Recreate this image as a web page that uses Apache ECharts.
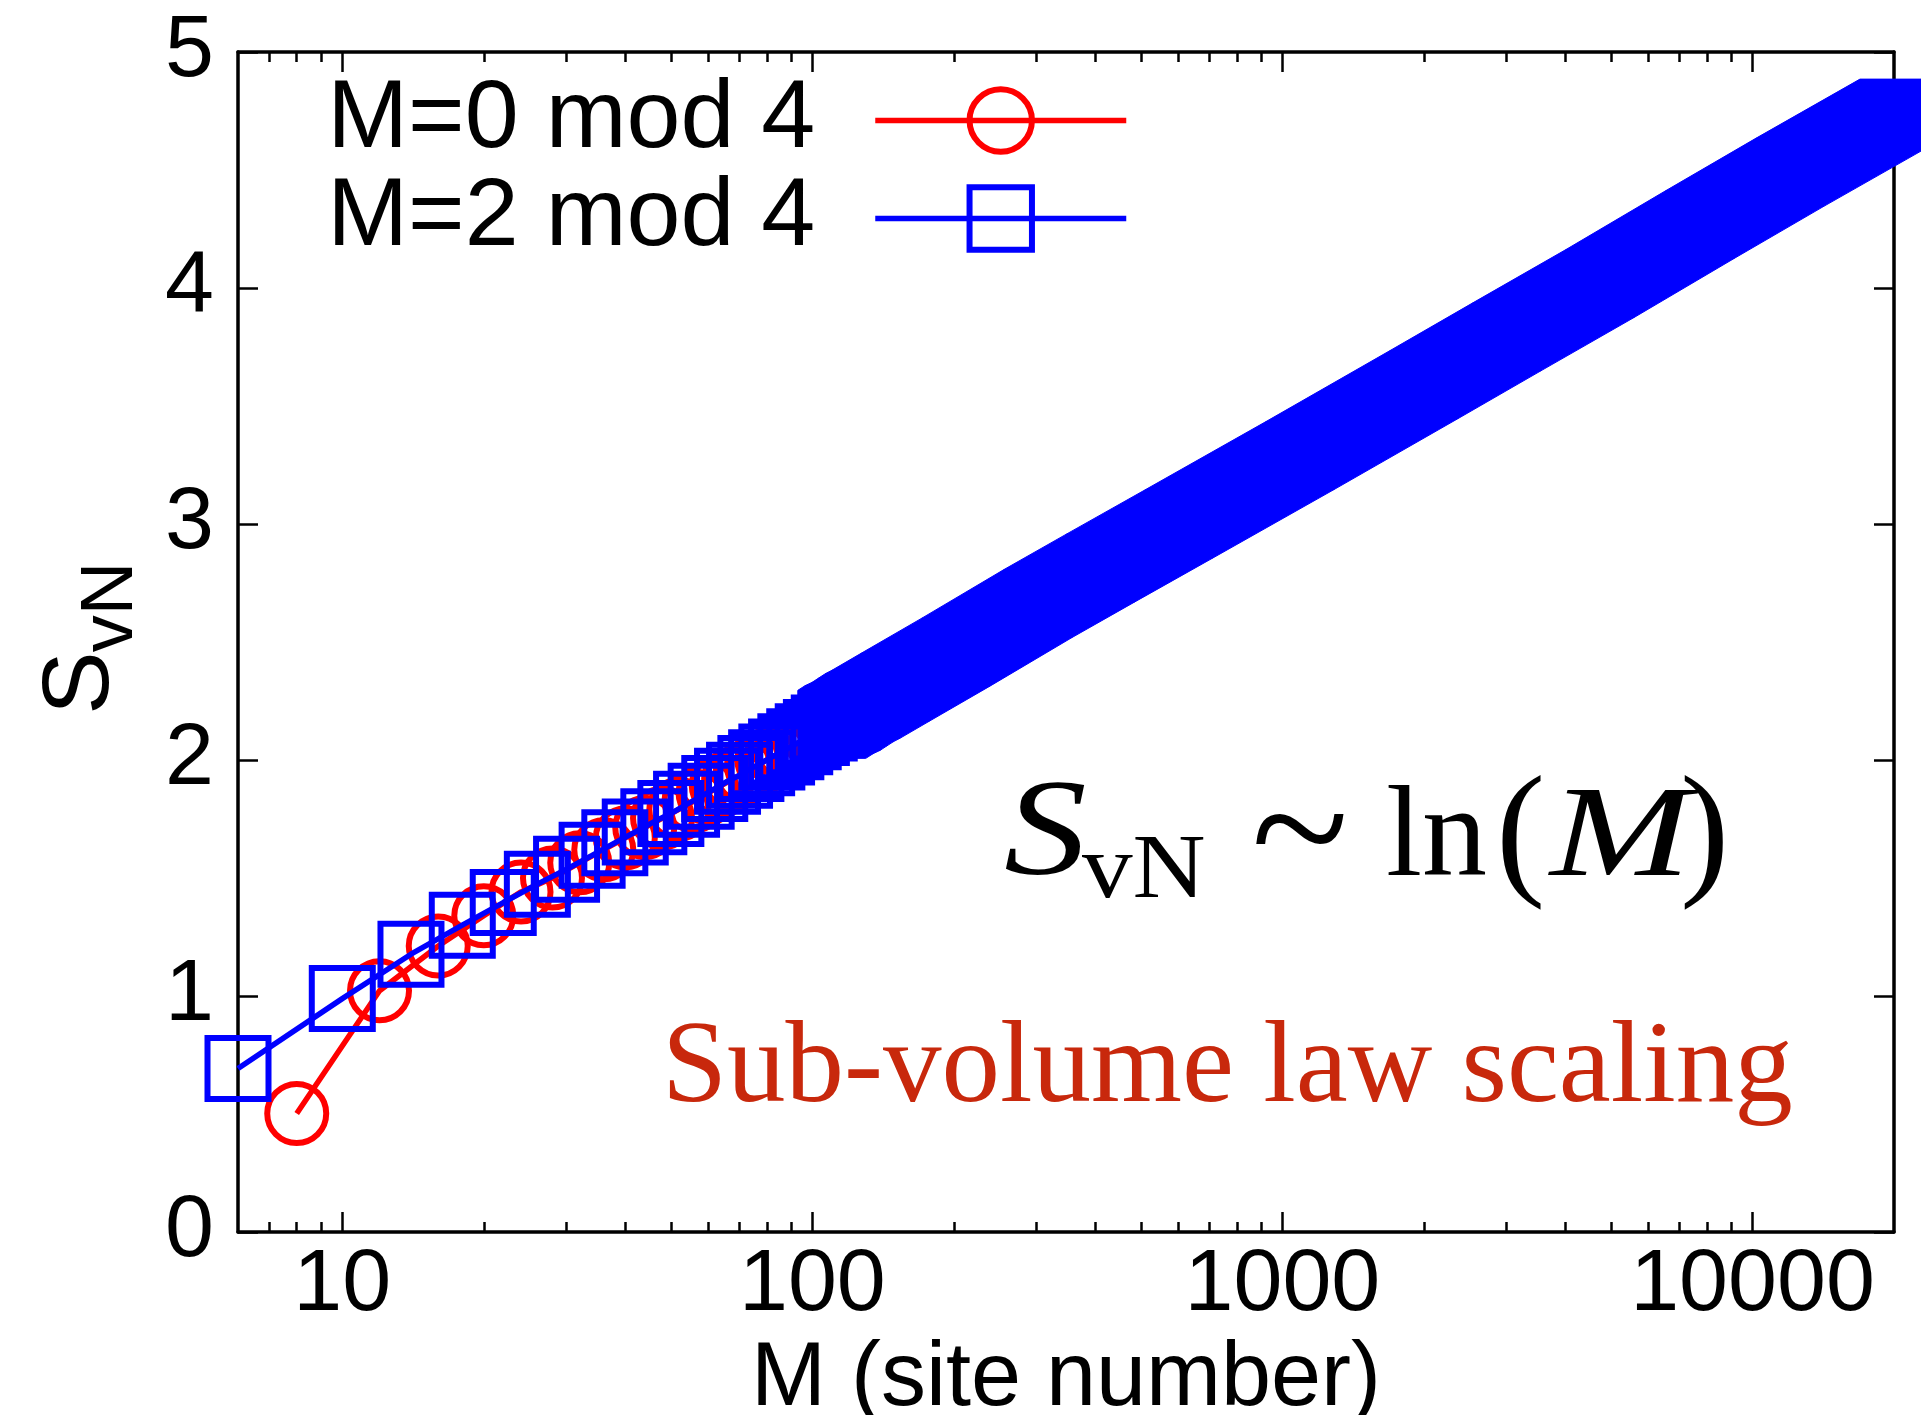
<!DOCTYPE html>
<html><head><meta charset="utf-8">
<script src="https://cdn.jsdelivr.net/npm/echarts@6/dist/echarts.min.js"></script>
<style>html,body{margin:0;padding:0;background:#fff}#c{width:1921px;height:1415px}</style>
</head><body><div id="c"></div>
<script>
// ---- data ----
const seriesNames = ['M=0 mod 4', 'M=2 mod 4'];
const xMajorTicks = [10, 100, 1000, 10000];
const xMinorTicks = [7, 8, 9, 20, 30, 40, 50, 60, 70, 80, 90, 200, 300, 400, 500, 600, 700, 800, 900,
  2000, 3000, 4000, 5000, 6000, 7000, 8000, 9000];
const yTicks = [0, 1, 2, 3, 4, 5];

const redM = [8, 12, 16, 20, 24, 28, 32, 36, 40, 44, 48, 52, 56, 60, 64, 68, 72, 76, 80, 84, 88, 92, 96,
  100, 104, 108, 112, 116, 120, 124, 128];
const redS = [0.502, 1.022, 1.212, 1.340, 1.441, 1.500, 1.565, 1.620, 1.670, 1.714, 1.754, 1.791, 1.826,
  1.860, 1.892, 1.921, 1.948, 1.975, 2.000, 2.023, 2.045, 2.066, 2.087, 2.106, 2.125, 2.143, 2.161, 2.178,
  2.194, 2.212, 2.228];

const blueM = [6, 10, 14, 18, 22, 26, 30, 34, 38, 42, 46, 50, 54, 58, 62, 66, 70, 74, 78, 82, 86, 90, 94,
  98, 102, 106, 110, 114, 118, 122, 126, 130, 150, 202, 302, 410, 602, 1090, 2002, 3002, 4738, 7734,
  12002, 19998];
const blueS = [0.693, 0.989, 1.177, 1.300, 1.396, 1.474, 1.537, 1.596, 1.649, 1.695, 1.738, 1.773, 1.812,
  1.846, 1.879, 1.910, 1.935, 1.964, 1.988, 2.013, 2.034, 2.056, 2.077, 2.098, 2.116, 2.136, 2.151, 2.171,
  2.185, 2.204, 2.222, 2.236, 2.308, 2.457, 2.663, 2.813, 3.000, 3.290, 3.591, 3.793, 4.019, 4.269,
  4.490, 4.741];

// ---- rendering ----
const SANS = 'Liberation Sans';
const RED = '#ff0000', BLUE = '#0000ff';
const SQUARE_SPLIT = 130;   // beyond this the squares merge into a solid band
const BAND_FROM = 110;
const HALF = 34;            // half outer size of the square marker (px)

const redData = redM.map((m, i) => [m, redS[i]]);
const blueSquares = [];
blueM.forEach((m, i) => { if (m <= SQUARE_SPLIT) blueSquares.push([m, blueS[i]]); });
const bandRows = [];
for (let i = 0; i < blueM.length - 1; i++) {
  if (blueM[i] >= BAND_FROM) bandRows.push([blueM[i], blueS[i], blueM[i + 1], blueS[i + 1]]);
}

function hull(pts) {
  pts.sort((a, b) => a[0] - b[0] || a[1] - b[1]);
  const cross = (o, a, b) => (a[0] - o[0]) * (b[1] - o[1]) - (a[1] - o[1]) * (b[0] - o[0]);
  const lower = [];
  for (const p of pts) { while (lower.length >= 2 && cross(lower[lower.length - 2], lower[lower.length - 1], p) <= 0) lower.pop(); lower.push(p); }
  const upper = [];
  for (let i = pts.length - 1; i >= 0; i--) { const p = pts[i]; while (upper.length >= 2 && cross(upper[upper.length - 2], upper[upper.length - 1], p) <= 0) upper.pop(); upper.push(p); }
  upper.pop(); lower.pop();
  return lower.concat(upper);
}

const X_MIN = 6, X_MAX = 20000;
function xAxisBase(pos) {
  return {
    type: 'log', logBase: 10, min: X_MIN, max: X_MAX, position: pos,
    splitLine: { show: false }, minorTick: { show: false }, minorSplitLine: { show: false }
  };
}
const axisLineStyle = { color: '#000', width: 3.5 };
const tickStyle = { color: '#000', width: 2.5 };

const chart = echarts.init(document.getElementById('c'), null, { renderer: 'canvas' });
chart.setOption({
  animation: false,
  backgroundColor: '#fff',
  grid: { left: 238, right: 27, top: 52, bottom: 183, containLabel: false, outerBoundsMode: 'none' },
  xAxis: [
    Object.assign(xAxisBase('bottom'), {
      axisLine: { show: true, lineStyle: axisLineStyle },
      axisTick: { show: true, inside: true, length: 20, lineStyle: tickStyle, customValues: xMajorTicks },
      axisLabel: { show: true, customValues: xMajorTicks, fontFamily: SANS, fontSize: 88, color: '#000', margin: 10,
        formatter: v => String(Math.round(v)) },
      name: 'M (site number)', nameLocation: 'middle', nameGap: 90,
      nameTextStyle: { fontFamily: SANS, fontSize: 90, color: '#000' }
    }),
    Object.assign(xAxisBase('bottom'), {
      axisLine: { show: false },
      axisTick: { show: true, inside: true, length: 10, lineStyle: tickStyle, customValues: xMinorTicks },
      axisLabel: { show: false }
    }),
    Object.assign(xAxisBase('top'), {
      axisLine: { show: true, lineStyle: axisLineStyle },
      axisTick: { show: true, inside: true, length: 20, lineStyle: tickStyle, customValues: xMajorTicks },
      axisLabel: { show: false }
    }),
    Object.assign(xAxisBase('top'), {
      axisLine: { show: false },
      axisTick: { show: true, inside: true, length: 10, lineStyle: tickStyle, customValues: xMinorTicks },
      axisLabel: { show: false }
    })
  ],
  yAxis: [
    {
      type: 'value', min: yTicks[0], max: yTicks[yTicks.length - 1], interval: 1, position: 'left',
      splitLine: { show: false },
      axisLine: { show: true, lineStyle: axisLineStyle },
      axisTick: { show: true, inside: true, length: 20, lineStyle: tickStyle },
      axisLabel: { fontFamily: SANS, fontSize: 88, color: '#000', margin: 24 }
    },
    {
      type: 'value', min: yTicks[0], max: yTicks[yTicks.length - 1], interval: 1, position: 'right',
      splitLine: { show: false },
      axisLine: { show: true, lineStyle: axisLineStyle },
      axisTick: { show: true, inside: true, length: 20, lineStyle: tickStyle },
      axisLabel: { show: false }
    }
  ],
  legend: {
    orient: 'vertical', align: 'right', right: 787, top: 67,
    itemWidth: 251, itemHeight: 78, itemGap: 1, selectedMode: false,
    textStyle: { fontFamily: SANS, fontSize: 97, color: '#000', padding: [0, 55, 0, 0] },
    data: [
      { name: seriesNames[0], itemStyle: { color: 'rgba(0,0,0,0)', borderColor: RED, borderWidth: 6 }, lineStyle: { color: RED, width: 5.5 } },
      { name: seriesNames[1], itemStyle: { color: 'rgba(0,0,0,0)', borderColor: BLUE, borderWidth: 6 }, lineStyle: { color: BLUE, width: 5.5 } }
    ]
  },
  series: [
    {
      name: seriesNames[0], type: 'line', xAxisIndex: 0, yAxisIndex: 0, data: redData, z: 2,
      clip: false, silent: true, showAllSymbol: true,
      symbol: 'circle', symbolSize: 59,
      itemStyle: { color: 'rgba(0,0,0,0)', borderColor: RED, borderWidth: 6 },
      lineStyle: { color: RED, width: 5.5 }
    },
    {
      name: seriesNames[1], type: 'line', xAxisIndex: 0, yAxisIndex: 0, data: blueSquares, z: 3,
      clip: false, silent: true, showAllSymbol: true,
      symbol: 'rect', symbolSize: 61,
      itemStyle: { color: 'rgba(0,0,0,0)', borderColor: BLUE, borderWidth: 6 },
      lineStyle: { color: BLUE, width: 5.5 }
    },
    {
      name: seriesNames[1], type: 'custom', xAxisIndex: 0, yAxisIndex: 0, data: bandRows, z: 4,
      clip: false, silent: true,
      encode: { x: [0, 2], y: [1, 3] },
      renderItem: function (params, api) {
        const a = api.coord([api.value(0), api.value(1)]);
        const b = api.coord([api.value(2), api.value(3)]);
        const pts = [];
        [a, b].forEach(p => { [-HALF, HALF].forEach(dx => { [-HALF, HALF].forEach(dy => pts.push([p[0] + dx, p[1] + dy])); }); });
        return { type: 'polygon', shape: { points: hull(pts) }, style: { fill: BLUE, stroke: BLUE, lineWidth: 1 } };
      }
    }
  ],
  graphic: [
    // y-axis title S_vN (rotated)
    { type: 'text', x: 82, y: 683, rotation: Math.PI / 2, style: { text: 'S', font: '95px "Liberation Sans"', fill: '#000', align: 'center', verticalAlign: 'middle' } },
    { type: 'text', x: 112, y: 607, rotation: Math.PI / 2, style: { text: 'vN', font: '74px "Liberation Sans"', fill: '#000', align: 'center', verticalAlign: 'middle' } },
    // formula  S_vN ~ ln(M)
    { type: 'text', x: 1004, y: 838, scaleX: 1.2, style: { text: 'S', font: 'italic 138px "Liberation Serif"', fill: '#000', align: 'left', verticalAlign: 'middle' } },
    { type: 'text', x: 1082, y: 873, scaleX: 1.1, style: { text: 'vN', font: '92px "Liberation Serif"', fill: '#000', align: 'left', verticalAlign: 'middle' } },
    { type: 'text', x: 1300, y: 841, style: { text: '~', font: '180px "Liberation Serif"', fill: '#000', align: 'center', verticalAlign: 'middle' } },
    { type: 'text', x: 1386, y: 841, style: { text: 'ln', font: '130px "Liberation Serif"', fill: '#000', align: 'left', verticalAlign: 'middle' } },
    { type: 'text', x: 1496, y: 839, style: { text: '(', font: '148px "Liberation Serif"', fill: '#000', align: 'left', verticalAlign: 'middle' } },
    { type: 'text', x: 1550, y: 841, scaleX: 1.3, style: { text: 'M', font: 'italic 130px "Liberation Serif"', fill: '#000', align: 'left', verticalAlign: 'middle' } },
    { type: 'text', x: 1680, y: 839, style: { text: ')', font: '148px "Liberation Serif"', fill: '#000', align: 'left', verticalAlign: 'middle' } },
    // annotation
    { type: 'text', x: 662, y: 1070, style: { text: 'Sub-volume law scaling', font: '117px "Liberation Serif"', fill: '#c8280c', align: 'left', verticalAlign: 'middle' } }
  ]
});
</script>
</body></html>
